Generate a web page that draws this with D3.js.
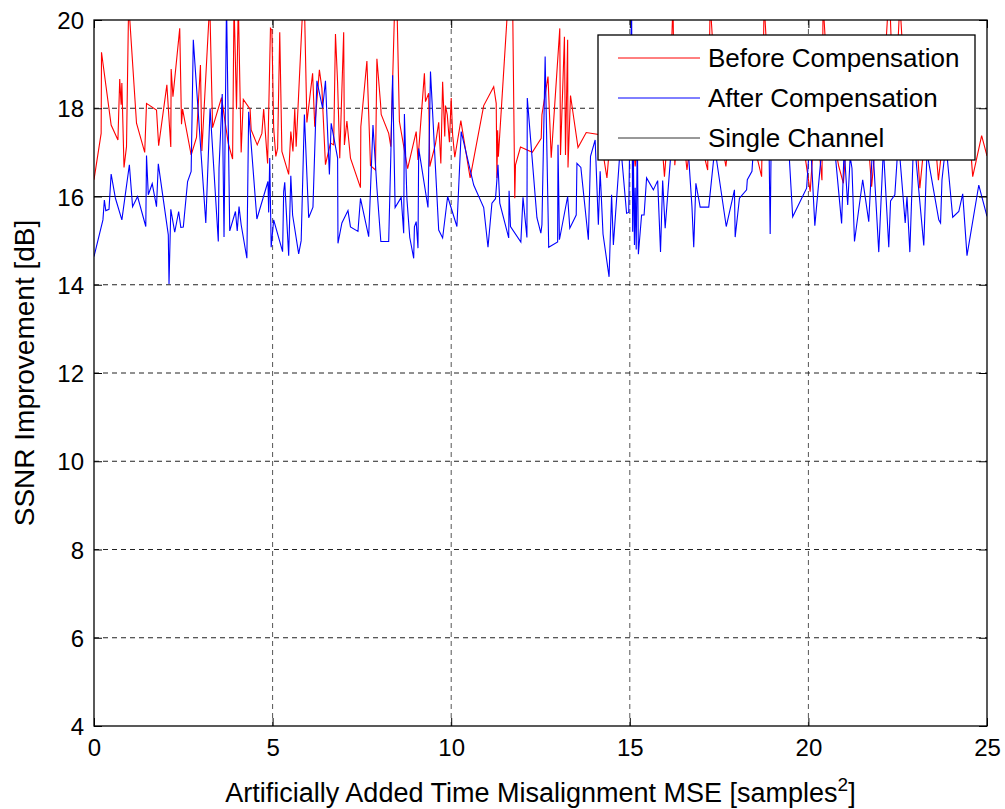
<!DOCTYPE html>
<html><head><meta charset="utf-8">
<script src="https://cdn.jsdelivr.net/npm/d3@7"></script>
<style>body{margin:0;background:#fff}svg{display:block}</style>
</head><body>
<script>
const xTicks=[0,5,10,15,20,25];
const yTicks=[4,6,8,10,12,14,16,18,20];
const seriesNames=["Before Compensation","After Compensation","Single Channel"];
const singleChannelX=[0,25];
const singleChannelY=[16,16];
const beforeX=[0.00,0.20,0.21,0.48,0.67,0.72,0.76,0.78,0.84,0.91,0.97,1.19,1.42,1.47,1.75,1.81,2.04,2.15,2.16,2.21,2.40,2.45,2.48,2.72,2.87,2.98,3.02,3.24,3.32,3.57,3.76,3.88,3.92,3.99,4.04,4.12,4.18,4.37,4.40,4.57,4.70,4.75,4.86,4.94,4.98,5.03,5.09,5.14,5.20,5.26,5.45,5.51,5.57,5.62,5.66,5.85,5.89,5.96,6.12,6.18,6.31,6.38,6.48,6.62,6.71,6.76,6.82,6.88,6.99,7.01,7.08,7.18,7.46,7.47,7.64,7.74,7.88,7.92,8.02,8.04,8.25,8.31,8.42,8.48,8.55,8.78,9.02,9.07,9.25,9.28,9.37,9.40,9.56,9.65,9.71,9.76,9.82,9.84,9.89,9.95,10.00,10.04,10.10,10.18,10.27,10.53,10.91,11.19,11.26,11.28,11.30,11.32,11.59,11.72,11.78,11.80,11.94,12.27,12.52,12.54,12.71,12.80,13.04,13.06,13.17,13.20,13.26,13.27,13.34,13.55,13.78,14.17,14.36,14.55,14.75,14.95,15.15,15.35,15.55,15.75,15.97,16.10,16.21,16.26,16.40,16.60,16.80,17.00,17.18,17.25,17.45,17.69,17.90,18.10,18.30,18.50,18.69,18.76,18.95,19.15,19.35,19.55,19.80,20.05,20.20,20.38,20.41,20.60,20.85,20.98,21.15,21.35,21.55,21.77,21.95,22.10,22.24,22.28,22.40,22.56,22.75,22.95,23.12,23.30,23.45,23.64,23.85,24.05,24.25,24.45,24.60,24.85,25.00];
const beforeY=[16.38,17.43,19.27,17.62,17.28,18.66,18.08,18.57,16.66,17.13,20.4,17.66,17.00,18.11,17.96,17.15,18.53,17.12,18.89,18.26,19.81,17.64,17.98,16.94,17.34,18.98,17.03,20.4,17.56,18.24,17.20,16.85,20.4,17.98,20.4,17.00,18.20,17.98,17.51,17.17,17.43,17.98,16.75,19.81,19.77,17.55,16.91,17.09,19.72,17.02,16.50,17.47,17.02,17.98,17.13,20.4,20.4,17.68,18.79,17.58,18.87,18.45,16.72,17.21,17.17,19.68,18.57,16.87,19.72,17.17,17.71,16.87,16.20,17.58,19.07,16.70,16.60,19.12,18.13,17.86,17.43,17.13,20.4,20.4,17.70,16.63,17.47,16.83,18.79,18.15,18.34,16.68,17.19,17.68,16.75,18.60,17.36,18.06,17.85,17.23,18.23,17.40,16.89,17.28,17.72,16.42,18.06,18.49,18.11,16.42,17.50,16.90,20.4,20.4,15.96,16.72,17.12,17.00,17.32,17.85,18.72,16.88,19.81,16.94,19.62,16.94,19.55,16.66,18.29,17.11,17.45,17.40,16.42,18.30,17.50,18.80,16.68,18.10,17.30,18.90,16.45,17.80,20.4,16.71,18.20,16.60,17.90,17.20,16.60,20.4,17.80,16.68,18.30,17.40,18.90,17.10,16.45,20.4,17.60,18.50,17.20,18.00,17.50,16.11,17.90,16.37,20.4,17.80,16.68,16.30,18.20,17.40,18.60,16.22,17.90,18.50,20.4,20.4,17.60,20.4,17.80,18.40,16.19,17.70,18.30,16.37,17.90,18.60,17.40,18.10,16.45,17.38,16.92];
const afterX=[0.00,0.25,0.29,0.33,0.42,0.48,0.60,0.78,0.99,1.08,1.22,1.45,1.47,1.52,1.63,1.75,1.80,2.08,2.10,2.15,2.26,2.37,2.43,2.50,2.62,2.72,2.78,3.13,3.25,3.48,3.50,3.59,3.64,3.71,3.80,3.96,4.01,4.06,4.12,4.28,4.33,4.56,4.87,4.89,4.92,4.96,5.03,5.28,5.31,5.34,5.45,5.51,5.56,5.73,5.80,5.89,6.01,6.13,6.24,6.40,6.48,6.59,6.64,6.82,6.83,6.94,7.11,7.18,7.39,7.46,7.69,7.81,7.92,8.03,8.25,8.31,8.36,8.43,8.60,8.67,8.69,8.76,8.84,8.95,8.97,9.02,9.07,9.09,9.35,9.42,9.65,9.76,9.90,10.16,10.28,10.63,10.91,11.03,11.14,11.24,11.31,11.36,11.61,11.62,11.66,11.95,12.01,12.12,12.13,12.40,12.51,12.54,12.63,12.73,12.98,12.99,13.03,13.26,13.32,13.50,13.52,13.63,13.84,13.90,14.03,14.12,14.17,14.25,14.42,14.49,14.54,14.74,14.91,14.97,15.05,15.08,15.10,15.13,15.15,15.18,15.21,15.24,15.33,15.40,15.47,15.66,15.78,15.86,15.92,15.99,16.18,16.45,16.64,16.74,16.79,16.85,16.97,17.21,17.38,17.70,17.93,17.95,18.07,18.27,18.29,18.42,18.47,18.70,18.90,18.93,18.96,19.20,19.45,19.56,19.95,20.05,20.18,20.40,20.62,20.93,21.00,21.10,21.17,21.22,21.29,21.52,21.69,21.80,21.97,22.10,22.25,22.30,22.42,22.52,22.71,22.76,22.84,22.95,23.23,23.32,23.65,23.70,23.74,23.85,24.04,24.21,24.32,24.44,24.77,25.00];
const afterY=[14.64,15.47,15.92,15.68,15.71,16.51,15.96,15.47,16.72,15.77,16.00,15.32,16.93,16.04,16.29,15.77,16.74,15.13,14.02,15.71,15.19,15.66,15.30,15.31,16.34,16.57,19.55,15.40,18.00,14.98,16.64,18.32,15.08,20.4,15.22,15.66,15.22,15.77,15.36,14.60,17.92,15.49,16.34,15.64,16.87,14.85,15.47,14.75,16.11,16.32,14.66,16.47,15.58,14.70,15.00,17.86,15.52,15.76,18.62,18.00,18.62,16.50,17.66,16.87,14.94,15.40,15.68,15.31,15.21,15.96,15.09,17.62,16.20,14.98,14.98,16.94,18.75,15.75,15.98,15.17,17.87,15.95,15.07,14.60,15.31,15.43,14.83,17.09,15.75,18.83,15.24,15.06,16.00,15.32,17.47,16.26,15.75,14.85,15.85,15.95,16.72,15.85,15.06,16.13,15.32,14.97,15.98,15.07,18.23,15.52,15.17,15.36,19.17,14.85,14.97,17.17,15.02,16.00,15.28,15.58,16.75,16.66,15.02,16.91,17.28,15.36,16.57,15.15,14.18,16.04,14.90,17.20,15.62,15.64,20.4,15.20,16.90,14.90,16.20,14.80,17.50,14.69,15.58,15.58,16.42,16.15,16.36,14.74,16.36,15.28,17.30,17.80,17.00,15.77,14.85,16.30,15.76,15.76,17.10,15.32,16.15,15.08,15.96,16.15,16.38,16.57,17.20,17.80,17.00,15.15,17.40,18.00,17.10,15.54,16.19,17.40,15.34,17.30,18.10,15.39,17.10,15.81,16.90,16.64,14.98,16.38,15.43,17.20,14.74,17.10,14.85,15.90,16.04,17.30,15.40,16.00,14.74,17.40,14.89,17.00,15.47,15.40,16.38,17.20,15.53,15.66,16.06,14.66,16.26,15.55];

const W=1005,H=809;
const m={l:94,r:987,t:20,b:726};
const FONT="'Liberation Sans',Arial,sans-serif";
const svg=d3.select("body").append("svg").attr("width",W).attr("height",H)
  .style("font-family",FONT);
const x=d3.scaleLinear().domain([0,25]).range([m.l,m.r]);
const y=d3.scaleLinear().domain([4,20]).range([m.b,m.t]);

// grid
const g=svg.append("g");
g.selectAll("line.gx").data(xTicks.filter(d=>d>0&&d<25)).enter().append("line")
  .attr("x1",d=>x(d)).attr("x2",d=>x(d)).attr("y1",m.t).attr("y2",m.b)
  .attr("stroke","#555").attr("stroke-width",1).attr("stroke-dasharray","5,4");
g.selectAll("line.gy").data(yTicks.filter(d=>d>4&&d<20&&d!==16)).enter().append("line")
  .attr("x1",m.l).attr("x2",m.r).attr("y1",d=>y(d)).attr("y2",d=>y(d))
  .attr("stroke","#222").attr("stroke-width",1).attr("stroke-dasharray","5,4");

svg.append("clipPath").attr("id","clip").append("rect")
  .attr("x",m.l).attr("y",m.t).attr("width",m.r-m.l).attr("height",m.b-m.t);

const line=d3.line().x(d=>x(d[0])).y(d=>y(d[1]));
const plot=svg.append("g").attr("clip-path","url(#clip)");
plot.append("path").datum(d3.zip(singleChannelX,singleChannelY)).attr("d",line)
  .attr("fill","none").attr("stroke","#111").attr("stroke-width",1.1);
plot.append("path").datum(d3.zip(beforeX,beforeY)).attr("d",line)
  .attr("fill","none").attr("stroke","#ff0000").attr("stroke-width",1.1);
plot.append("path").datum(d3.zip(afterX,afterY)).attr("d",line)
  .attr("fill","none").attr("stroke","#0000ff").attr("stroke-width",1.1);

// axes
const axB=svg.append("g").attr("transform",`translate(0,${m.b})`)
  .call(d3.axisBottom(x).tickValues(xTicks).tickSize(-8).tickPadding(13).tickFormat(d3.format("d")));
const axL=svg.append("g").attr("transform",`translate(${m.l},0)`)
  .call(d3.axisLeft(y).tickValues(yTicks).tickSize(-8).tickPadding(10).tickFormat(d3.format("d")));
const axT=svg.append("g").attr("transform",`translate(0,${m.t})`)
  .call(d3.axisTop(x).tickValues(xTicks).tickSize(-8).tickFormat(""));
const axR=svg.append("g").attr("transform",`translate(${m.r},0)`)
  .call(d3.axisRight(y).tickValues(yTicks).tickSize(-8).tickFormat(""));
[axB,axL,axT,axR].forEach(a=>{
  a.select(".domain").remove();
  a.selectAll("line").attr("stroke","#000");
  a.selectAll("text").attr("fill","#000").style("font-size","24px")
   .style("font-family",FONT);
});
axL.selectAll("text").attr("dy","0.36em");
svg.append("rect").attr("x",m.l).attr("y",m.t).attr("width",m.r-m.l).attr("height",m.b-m.t)
  .attr("fill","none").attr("stroke","#000").attr("stroke-width",1.3);

// axis labels
const xl=svg.append("text").attr("x",(m.l+m.r)/2).attr("y",802).attr("text-anchor","middle")
  .style("font-size","27px").attr("fill","#000");
xl.append("tspan").text("Artificially Added Time Misalignment MSE [samples");
xl.append("tspan").attr("dy",-11).style("font-size","19px").text("2");
xl.append("tspan").attr("dy",11).text("]");
svg.append("text").attr("transform",`translate(34,${(m.t+m.b)/2}) rotate(-90)`)
  .attr("text-anchor","middle").style("font-size","28px").attr("fill","#000")
  .text("SSNR Improvement [dB]");

// legend
const lg=svg.append("g");
lg.append("rect").attr("x",598).attr("y",35).attr("width",377).attr("height",125)
  .attr("fill","#fff").attr("stroke","#000").attr("stroke-width",1.3);
const lcol=["#ff0000","#0000ff","#333"];
seriesNames.forEach((n,i)=>{
  const yy=58+i*40;
  lg.append("line").attr("x1",618).attr("x2",700).attr("y1",yy).attr("y2",yy)
    .attr("stroke",lcol[i]).attr("stroke-width",1);
  lg.append("text").attr("x",708).attr("y",yy+9).style("font-size","26px").attr("fill","#000").text(n);
});
</script>
</body></html>
